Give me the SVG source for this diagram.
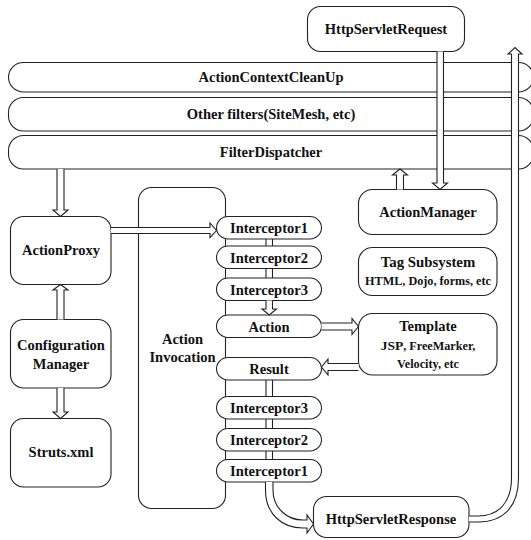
<svg xmlns="http://www.w3.org/2000/svg" width="531" height="540" viewBox="0 0 531 540">
<style>
.b{fill:#fff;stroke:#222;stroke-width:1.1}
.t{font-family:"Liberation Serif","Times New Roman",serif;font-weight:bold;font-size:14.5px;fill:#111;text-anchor:middle}
.s{font-size:12.2px}
.a{fill:#fff;stroke:#222;stroke-width:1.1;stroke-linejoin:miter}
</style>
<rect width="531" height="540" fill="#fff"/>
<g id="bar-cleanup"><rect class="b" x="8.5" y="62.5" width="525" height="29.5" rx="15"/><text class="t" x="271" y="82">ActionContextCleanUp</text></g>
<g id="bar-other"><rect class="b" x="8.5" y="97.5" width="525" height="33.5" rx="15"/><text class="t" x="271" y="119">Other filters(SiteMesh, etc)</text></g>
<g id="bar-dispatcher"><rect class="b" x="8.5" y="135.5" width="525" height="33.5" rx="15"/><text class="t" x="271" y="157">FilterDispatcher</text></g>
<g id="request"><rect class="b" x="307.5" y="6.5" width="157" height="45" rx="13"/><text class="t" x="386" y="34">HttpServletRequest</text></g>
<g id="action-invocation"><rect class="b" x="138.5" y="187.5" width="87" height="321" rx="13"/><text class="t" x="182.5" y="343.5">Action</text><text class="t" x="182.5" y="362">Invocation</text></g>
<g id="action-proxy"><rect class="b" x="10.5" y="216.5" width="100.5" height="68" rx="13"/><text class="t" x="61" y="255">ActionProxy</text></g>
<g id="config-manager"><rect class="b" x="10.5" y="319.5" width="100.5" height="68.5" rx="13"/><text class="t" x="61" y="350">Configuration</text><text class="t" x="61" y="369">Manager</text></g>
<g id="struts-xml"><rect class="b" x="10.5" y="418.5" width="100.5" height="68.5" rx="13"/><text class="t" x="61" y="457">Struts.xml</text></g>
<g id="action-manager"><rect class="b" x="358.5" y="189.5" width="138.5" height="45" rx="14"/><text class="t" x="428" y="216.5">ActionManager</text></g>
<g id="tag-subsystem"><rect class="b" x="358.5" y="247.5" width="138.5" height="48" rx="14"/><text class="t" x="428" y="267" style="font-size:14.8px">Tag Subsystem</text><text class="t s" x="428" y="284.5">HTML, Dojo, forms, etc</text></g>
<g id="template"><rect class="b" x="358.5" y="313.5" width="138.5" height="61.5" rx="14"/><text class="t" x="428" y="331">Template</text><text class="t s" x="428" y="350"><tspan style="font-size:13.5px">JSP</tspan>, FreeMarker,</text><text class="t s" x="428" y="368">Velocity, etc</text></g>
<g id="interceptor1"><rect class="b" x="216.5" y="216.5" width="105" height="22.5" rx="11.5"/><text class="t" x="269" y="233">Interceptor1</text></g>
<g id="interceptor2"><rect class="b" x="216.5" y="246" width="105" height="22.5" rx="11.5"/><text class="t" x="269" y="262.5">Interceptor2</text></g>
<g id="interceptor3"><rect class="b" x="216.5" y="278" width="105" height="22.5" rx="11.5"/><text class="t" x="269" y="294.5">Interceptor3</text></g>
<g id="action"><rect class="b" x="216.5" y="315" width="105" height="22.5" rx="11.5"/><text class="t" x="269" y="331.5">Action</text></g>
<g id="result"><rect class="b" x="216.5" y="357.5" width="105" height="22.5" rx="11.5"/><text class="t" x="269" y="374">Result</text></g>
<g id="interceptor3b"><rect class="b" x="216.5" y="396.5" width="105" height="22.5" rx="11.5"/><text class="t" x="269" y="413">Interceptor3</text></g>
<g id="interceptor2b"><rect class="b" x="216.5" y="428.5" width="105" height="22.5" rx="11.5"/><text class="t" x="269" y="445">Interceptor2</text></g>
<g id="interceptor1b"><rect class="b" x="216.5" y="459.5" width="105" height="22.5" rx="11.5"/><text class="t" x="269" y="476">Interceptor1</text></g>
<g id="response"><rect class="b" x="313.5" y="496.5" width="155.5" height="41" rx="13"/><text class="t" x="391" y="524">HttpServletResponse</text></g>
<g id="connectors">
<path class="a" d="M57,169 L57,210 L53,210 L60.5,216.5 L68,210 L64,210 L64,169"/>
<path class="a" d="M111,227.5 L210,227.5 L210,223 L216.5,230.5 L210,237.5 L210,233.5 L111,233.5"/>
<path class="a" d="M57,319.5 L57,290 L53,290 L60.5,284.5 L68,290 L64,290 L64,319.5"/>
<path class="a" d="M57,388 L57,412 L53,412 L60.5,418.5 L68,412 L64,412 L64,388"/>
<path class="a" d="M437,51.5 L437,183 L432.5,183 L440,189.5 L447.5,183 L443.5,183 L443.5,51.5"/>
<path class="a" d="M396.5,189.5 L396.5,175 L392.5,175 L400,169 L407.5,175 L403.5,175 L403.5,189.5"/>
<path class="a" d="M266,239 L266,246 M272.5,239 L272.5,246"/>
<path class="a" d="M266,268.5 L266,278 M272.5,268.5 L272.5,278"/>
<path class="a" d="M266,300.5 L266,309 L262,309 L269.25,315 L276.5,309 L272.5,309 L272.5,300.5"/>
<path class="a" d="M321.5,323 L352,323 L352,318.5 L358.5,326.5 L352,334.5 L352,330 L321.5,330"/>
<path class="a" d="M358.5,363.5 L328,363.5 L328,359 L321.5,367 L328,375 L328,370.5 L358.5,370.5"/>
<path class="a" d="M266,380 L266,396.5 M272.5,380 L272.5,396.5"/>
<path class="a" d="M266,419 L266,428.5 M272.5,419 L272.5,428.5"/>
<path class="a" d="M266,451 L266,459.5 M272.5,451 L272.5,459.5"/>
<path class="a" d="M265.5,482 L265.5,490 C265.5,514 282,528 303,528 L307,528 L307,533 L313.5,524 L307,515 L307,520 L303,520 C287,520 273,508 273,490 L273,482"/>
<path class="a" d="M469,516 L478,516 C499,516 511.5,502 511.5,478 L511.5,54 L508,54 L515,47.5 L522,54 L518.5,54 L518.5,478 C518.5,506 504,522 478,522 L469,522"/>
</g>
</svg>
